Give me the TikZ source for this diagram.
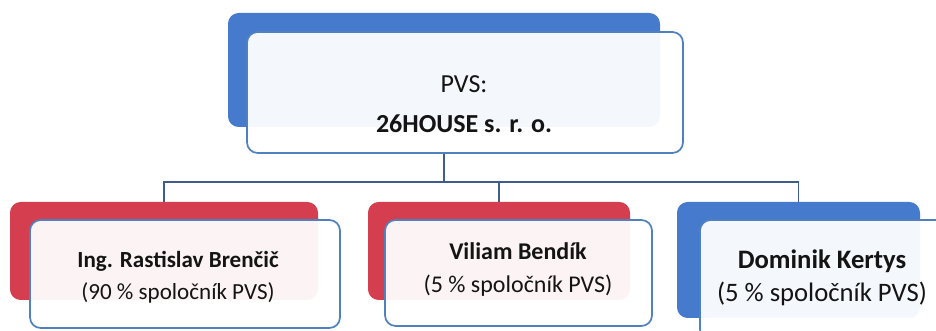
\documentclass[tikz,border=0pt]{standalone}
\usepackage{fontspec}
\setmainfont{Carlito}
\definecolor{backblue}{RGB}{70,122,205}
\definecolor{backred}{RGB}{212,62,78}
\definecolor{edgeblue}{RGB}{80,128,190}
\definecolor{linecol}{RGB}{62,92,140}
\tikzset{
  backbox/.style={rectangle, rounded corners=8pt, draw=none, inner sep=0pt},
  frontbox/.style={rectangle, rounded corners=8pt, draw=edgeblue, line width=1.3pt, fill=white, fill opacity=0.94, inner sep=0pt},
  txt/.style={align=center, text=black!92, inner sep=0pt},
  conn/.style={draw=linecol, line width=1.1pt}
}
\begin{document}
\begin{tikzpicture}[x=0.75pt,y=-0.75pt]
\useasboundingbox (0,0) rectangle (936,331);
% back boxes
\node[backbox, fill=backblue, minimum width=432*0.75pt, minimum height=114*0.75pt] (tb) at (444,70) {};
\node[backbox, fill=backred, minimum width=308*0.75pt, minimum height=98*0.75pt] (lb) at (164,251) {};
\node[backbox, fill=backred, minimum width=262*0.75pt, minimum height=98*0.75pt] (mb) at (499,251) {};
\node[backbox, fill=backblue, minimum width=243*0.75pt, minimum height=116*0.75pt] (rb) at (798.5,260) {};
% connectors
\coordinate (j) at (444,182);
\draw[conn] (lb.north) -- (lb.north |- j) -- (rb.north |- j) -- (rb.north);
\draw[conn] (mb.north) -- (mb.north |- j);
% front boxes
\node[frontbox, minimum width=436*0.75pt, minimum height=121*0.75pt] (tf) at (465,92.5) {};
\node[frontbox, minimum width=310*0.75pt, minimum height=108*0.75pt] (lf) at (185,274) {};
\node[frontbox, minimum width=267*0.75pt, minimum height=106*0.75pt] (mf) at (518.5,273) {};
\node[frontbox, minimum width=250*0.75pt, minimum height=120*0.75pt] (rf) at (825,280) {};
\draw[conn] (tf.south -| tb.south) -- (j);
% texts
\node[txt, font=\fontsize{19.5}{30}\selectfont] (tt) at (464,104) {PVS:\\\textbf{26HOUSE s. r. o.}};
\node[txt, font=\fontsize{17.3}{24}\selectfont] (lt) at (178,277) {\textbf{Ing. Rastislav Brenčič}\\(90 \% spoločník PVS)};
\node[txt, font=\fontsize{18}{24.75}\selectfont] (mt) at (518,269.5) {\textbf{Viliam Bendík}\\(5 \% spoločník PVS)};
\node[txt, font=\fontsize{20}{24.75}\selectfont] (rt) at (822,277.5) {\textbf{Dominik Kertys}\\(5 \% spoločník PVS)};
\end{tikzpicture}
\end{document}
